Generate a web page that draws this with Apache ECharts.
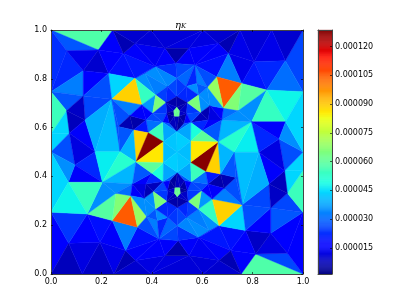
<!DOCTYPE html>
<html><head><meta charset="utf-8">
<style>html,body{margin:0;padding:0;background:#fff}#c{width:407px;height:305px}</style>
<script src="https://cdn.jsdelivr.net/npm/echarts@6/dist/echarts.min.js"></script>
</head><body><div id="c"></div>
<script>
// mesh nodes, 1-based; positive ids read from upperNodes, negative from lowerNodes
const upperNodes=[null,[0,1],[.245,1],[.188,.918],[.062,.915],[0,.747],[.128,.833],[.228,.822],[.287,.904],[.333,.802],[.241,.716],
[.36,.693],[.128,.73],[.062,.669],[.415,.734],[.403,.658],[.456,.702],[.333,.945],[.135,.631],[.073,.577],[0,.5],
[0,.575],[.175,.501],[.274,.501],[.905,.553],[.796,.624],[.931,.624],[1,.747],[.856,.754],[.743,.669],[.657,.808],
[.757,.781],[.684,.679],[.62,.765],[.704,.904],[.806,.87],[.93,.874],[.664,.945],[.75,1],[.876,1],[1,1],
[.604,1],[.396,1],[.452,.925],[.548,.925],[.495,.863],[.413,.85],[.373,.822],[.462,.768],[.499,.802],[.536,.768],
[.571,.857],[.578,.781],[.585,.734],[.594,.662],[.541,.702],[.631,.69],[.624,.631],[.677,.631],[.555,.621],[.6,.587],
[.663,.541],[.554,.544],[.446,.542],[.443,.622],[.386,.579],[.327,.59],[.377,.631],[.313,.649],[.267,.604],[.499,.727],
[.459,.658],[.538,.658],[.47,.617],[.528,.617],[.499,.583],[.499,.683],[.51,.669],[.508,.647],[.489,.647],[.487,.669],[.5,.5]];
const lowerNodes=[null,[1,0],[.755,0],[.812,.082],[.938,.085],[1,.253],[.872,.167],[.772,.178],[.713,.096],[.667,.198],[.759,.284],
[.64,.307],[.872,.27],[.938,.331],[.585,.266],[.597,.342],[.544,.298],[.667,.055],[.865,.369],[.927,.423],[1,.5],
[1,.425],[.825,.499],[.726,.499],[.095,.447],[.204,.376],[.069,.376],[0,.253],[.144,.246],[.257,.331],[.343,.192],
[.243,.219],[.316,.321],[.38,.235],[.296,.096],[.194,.13],[.07,.126],[.336,.055],[.25,0],[.124,0],[0,0],
[.396,0],[.604,0],[.548,.075],[.452,.075],[.505,.137],[.587,.15],[.627,.178],[.538,.232],[.501,.198],[.464,.232],
[.429,.143],[.422,.219],[.415,.266],[.406,.338],[.459,.298],[.369,.31],[.376,.369],[.323,.369],[.445,.379],[.4,.413],
[.337,.459],[.446,.456],[.554,.458],[.557,.378],[.614,.421],[.673,.41],[.623,.369],[.687,.351],[.733,.396],[.501,.273],
[.541,.342],[.462,.342],[.53,.383],[.472,.383],[.501,.417],[.501,.317],[.49,.331],[.492,.353],[.511,.353],[.513,.331],[.5,.5]];
// triangles: node, node, node, eta (in 1e-6)
const upperCells=[[1,2,3,58],[1,3,4,28],[1,4,5,23],[4,6,5,22],[5,6,12,33],[5,12,13,28],[5,13,21,55],[13,19,21,44],[19,20,21,44],
[3,4,6,13],[3,6,7,10],[2,3,8,15],[3,7,8,16],[6,7,12,16],[7,8,9,19],[7,9,10,44],[7,10,12,27],[12,10,18,26],[12,13,18,9],[13,18,19,8],
[18,19,22,15],[19,20,-24,27],[19,22,-24,12],[18,10,22,39],[10,22,23,41],[-24,22,-25,22],[-24,-25,-26,15],[20,-24,-26,35],[20,-26,-27,44],
[40,36,27,26],[39,40,36,10],[38,39,35,11],[39,35,36,13],[35,36,28,22],[36,28,27,31],[34,35,31,13],[35,31,28,20],[38,35,34,13],[37,38,34,7],
[41,37,38,10],[41,44,37,12],[44,37,51,15],[37,34,51,15],[34,30,51,19],[34,30,31,33],[30,31,32,105],[33,30,32,69],[31,32,29,66],[31,29,28,59],
[29,28,25,35],[28,25,26,54],[28,26,27,48],[25,-22,-23,47],[61,25,-23,52],[61,58,25,40],[58,29,25,35],[32,29,58,31],[32,58,56,15],[33,32,56,35],
[33,56,53,35],[56,54,53,35],[56,54,57,7],[56,57,58,12],[54,59,57,8],[57,59,60,22],[57,58,60,15],[58,60,61,28],[59,60,62,50],[60,61,62,60],
[33,51,52,33],[33,52,53,28],[30,51,33,27],[42,41,43,11],[41,43,44,12],[43,44,45,6],[44,45,51,15],[45,51,49,26],[45,46,43,15],[45,46,49,23],
[49,51,50,30],[51,52,50,22],[52,50,53,35],[50,53,55,22],[50,55,70,22],[49,50,70,24],[49,48,70,26],[46,49,48,34],[46,47,48,35],[47,48,14,33],
[48,14,16,25],[48,16,70,22],[9,47,14,35],[9,46,47,27],[8,9,46,20],[8,17,46,15],[17,43,46,14],[2,8,17,7],[2,17,42,10],[17,42,43,11],
[9,11,14,54],[9,10,11,89],[11,14,15,36],[14,15,16,65],[70,76,16,6],[70,76,55,6],[16,76,80,9],[16,80,71,9],[71,80,79,5],[71,79,73,5],
[73,79,75,8],[79,78,75,8],[75,78,74,5],[74,78,72,5],[72,78,77,9],[72,77,55,9],[55,77,76,7],[76,77,78,62],[76,78,79,62],[76,79,80,62],
[15,16,71,24],[15,71,64,26],[64,71,73,15],[64,73,75,28],[64,75,63,38],[54,55,72,24],[54,72,59,26],[59,72,74,15],[59,74,75,28],[59,75,62,38],
[53,54,55,65],[10,11,68,33],[10,68,69,27],[68,69,66,7],[68,66,67,6],[68,11,67,15],[11,15,67,16],[15,67,64,26],[67,64,65,31],[67,66,65,20],
[64,65,63,55],[66,65,-61,89],[65,63,-61,128],[63,-62,-61,86],[10,69,23,27],[69,23,66,28],[66,23,-61,40],[75,63,81,42],[75,62,81,43],[63,-62,81,41]];
const lowerCells=[[-1,-2,-3,58],[-1,-3,-4,26],[-1,-4,-5,16],[-4,-6,-5,16],[-5,-6,-12,28],[-5,-12,-13,26],[-5,-13,-21,55],[-13,-19,-21,44],[-19,-20,-21,44],
[-3,-4,-6,12],[-3,-6,-7,9],[-2,-3,-8,15],[-3,-7,-8,16],[-6,-7,-12,16],[-7,-8,-9,19],[-7,-9,-10,44],[-7,-10,-12,27],[-12,-10,-18,26],[-12,-13,-18,9],[-13,-18,-19,8],
[-18,-19,-22,15],[-19,-20,24,27],[-19,-22,24,12],[-18,-10,-22,39],[-10,-22,-23,41],[24,-22,25,22],[24,25,26,15],[-20,24,26,35],[-20,26,27,44],
[-40,-36,-27,16],[-39,-40,-36,8],[-38,-39,-35,9],[-39,-35,-36,12],[-35,-36,-28,16],[-36,-28,-27,24],[-34,-35,-31,15],[-35,-31,-28,19],[-38,-35,-34,13],[-37,-38,-34,7],
[-41,-37,-38,10],[-41,-44,-37,12],[-44,-37,-51,15],[-37,-34,-51,15],[-34,-30,-51,19],[-34,-30,-31,33],[-30,-31,-32,105],[-33,-30,-32,69],[-31,-32,-29,66],[-31,-29,-28,59],
[-29,-28,-25,35],[-28,-25,-26,54],[-28,-26,-27,48],[-25,22,23,47],[-61,-25,23,52],[-61,-58,-25,40],[-58,-29,-25,35],[-32,-29,-58,31],[-32,-58,-56,15],[-33,-32,-56,35],
[-33,-56,-53,35],[-56,-54,-53,35],[-56,-54,-57,7],[-56,-57,-58,12],[-54,-59,-57,8],[-57,-59,-60,22],[-57,-58,-60,15],[-58,-60,-61,28],[-59,-60,-62,50],[-60,-61,-62,60],
[-33,-51,-52,33],[-33,-52,-53,28],[-30,-51,-33,27],[-42,-41,-43,11],[-41,-43,-44,12],[-43,-44,-45,6],[-44,-45,-51,15],[-45,-51,-49,26],[-45,-46,-43,15],[-45,-46,-49,23],
[-49,-51,-50,30],[-51,-52,-50,22],[-52,-50,-53,35],[-50,-53,-55,22],[-50,-55,-70,22],[-49,-50,-70,24],[-49,-48,-70,26],[-46,-49,-48,34],[-46,-47,-48,35],[-47,-48,-14,33],
[-48,-14,-16,25],[-48,-16,-70,22],[-9,-47,-14,35],[-9,-46,-47,27],[-8,-9,-46,20],[-8,-17,-46,15],[-17,-43,-46,14],[-2,-8,-17,7],[-2,-17,-42,10],[-17,-42,-43,11],
[-9,-11,-14,54],[-9,-10,-11,89],[-11,-14,-15,36],[-14,-15,-16,65],[-70,-76,-16,6],[-70,-76,-55,6],[-16,-76,-80,9],[-16,-80,-71,9],[-71,-80,-79,5],[-71,-79,-73,5],
[-73,-79,-75,8],[-79,-78,-75,8],[-75,-78,-74,5],[-74,-78,-72,5],[-72,-78,-77,9],[-72,-77,-55,9],[-55,-77,-76,7],[-76,-77,-78,62],[-76,-78,-79,62],[-76,-79,-80,62],
[-15,-16,-71,24],[-15,-71,-64,26],[-64,-71,-73,15],[-64,-73,-75,28],[-64,-75,-63,38],[-54,-55,-72,24],[-54,-72,-59,26],[-59,-72,-74,15],[-59,-74,-75,28],[-59,-75,-62,38],
[-53,-54,-55,65],[-10,-11,-68,33],[-10,-68,-69,27],[-68,-69,-66,7],[-68,-66,-67,6],[-68,-11,-67,15],[-11,-15,-67,16],[-15,-67,-64,26],[-67,-64,-65,31],[-67,-66,-65,20],
[-64,-65,-63,55],[-66,-65,61,89],[-65,-63,61,128],[-63,62,61,86],[-10,-69,-23,27],[-69,-23,-66,28],[-66,-23,61,40],[-75,-63,-81,42],[-75,-62,-81,43],[-63,62,-81,41]];
const axisTicks=[0,0.2,0.4,0.6,0.8,1];
const colorbarTicks=[15e-6,30e-6,45e-6,60e-6,75e-6,90e-6,105e-6,120e-6];
const etaMin=1.3e-6, etaMax=128.7e-6, colorLevels=256;

function seg(t,p){for(let i=1;i<p.length;i++){if(t<=p[i][0]){const a=p[i-1],b=p[i];return a[1]+(b[1]-a[1])*(t-a[0])/(b[0]-a[0]);}}return p[p.length-1][1];}
function jet(v){
  const t=Math.max(0,Math.min(1,(v-etaMin)/(etaMax-etaMin)));
  const r=seg(t,[[0,0],[.35,0],[.66,1],[.89,1],[1,.5]]);
  const g=seg(t,[[0,0],[.125,0],[.375,1],[.64,1],[.91,0],[1,0]]);
  const b=seg(t,[[0,.5],[.11,1],[.34,1],[.65,0],[1,0]]);
  return 'rgb('+Math.round(r*255)+','+Math.round(g*255)+','+Math.round(b*255)+')';
}
const node=id=>id>0?upperNodes[id]:lowerNodes[-id];
const meshData=upperCells.concat(lowerCells).map(c=>[...node(c[0]),...node(c[1]),...node(c[2]),c[3]*1e-6]);
const barData=[];
for(let i=0;i<colorLevels;i++){const s=(etaMax-etaMin)/colorLevels;barData.push([etaMin+i*s,etaMin+(i+1)*s]);}

const tickFont={fontFamily:'DejaVu Sans',fontSize:8,color:'#000'};
const frame={show:true,onZero:false,lineStyle:{color:'#444',width:1}};
const noMark={axisLabel:{show:false},axisTick:{show:false},splitLine:{show:false}};
const tick={show:true,inside:true,length:2,lineStyle:{color:'#000',width:.6},customValues:axisTicks};
const mainAxis=(pos,gridIndex,labels)=>({type:'value',gridIndex,min:0,max:1,position:pos,z:6,axisLine:frame,splitLine:{show:false},
  axisTick:tick,axisLabel:labels?{...tickFont,margin:4,customValues:axisTicks,formatter:v=>v.toFixed(1)}:{show:false}});
const chart=echarts.init(document.getElementById('c'),null,{renderer:'canvas'});
chart.setOption({
  animation:false,backgroundColor:'#fff',
  title:{text:'{a|η}{b|K}',left:170,top:15,
    textStyle:{fontWeight:'normal',rich:{a:{fontFamily:'DejaVu Serif',fontStyle:'italic',fontWeight:'normal',fontSize:10,color:'#000'},b:{fontFamily:'DejaVu Serif',fontStyle:'italic',fontWeight:'normal',fontSize:7,color:'#000',verticalAlign:'bottom',padding:[3,0,0,0]}}}},
  grid:[{left:51,top:30,width:252,height:244},{left:318,top:30,width:14,height:244}],
  xAxis:[mainAxis('bottom',0,true),mainAxis('top',0,false),
    {type:'value',gridIndex:1,min:0,max:1,position:'bottom',z:6,axisLine:frame,...noMark},
    {type:'value',gridIndex:1,min:0,max:1,position:'top',z:6,axisLine:frame,...noMark}],
  yAxis:[mainAxis('left',0,true),mainAxis('right',0,false),
    {type:'value',gridIndex:1,min:etaMin,max:etaMax,position:'right',z:6,axisLine:frame,splitLine:{show:false},
     axisTick:{show:true,inside:true,length:2,lineStyle:{color:'#000',width:.6},customValues:colorbarTicks},
     axisLabel:{...tickFont,margin:3,customValues:colorbarTicks,formatter:v=>v.toFixed(6)}},
    {type:'value',gridIndex:1,min:etaMin,max:etaMax,position:'left',z:6,axisLine:frame,...noMark}],
  series:[
   {type:'custom',xAxisIndex:0,yAxisIndex:0,z:1,silent:true,clip:true,data:meshData,
    encode:{x:[0,2,4],y:[1,3,5]},
    renderItem:(p,api)=>{const pts=[0,1,2].map(k=>api.coord([api.value(2*k),api.value(2*k+1)]));const col=jet(api.value(6));
      return {type:'polygon',shape:{points:pts},style:{fill:col,stroke:col,lineWidth:.4}};}},
   {type:'custom',xAxisIndex:2,yAxisIndex:2,z:1,silent:true,data:barData,encode:{y:[0,1]},
    renderItem:(p,api)=>{const lo=api.value(0),hi=api.value(1);const a=api.coord([0,lo]),b=api.coord([1,hi]);const col=jet((lo+hi)/2);
      return {type:'rect',shape:{x:a[0],y:b[1],width:b[0]-a[0],height:a[1]-b[1]},style:{fill:col,stroke:col,lineWidth:.3}};}}
  ]
});
</script></body></html>
